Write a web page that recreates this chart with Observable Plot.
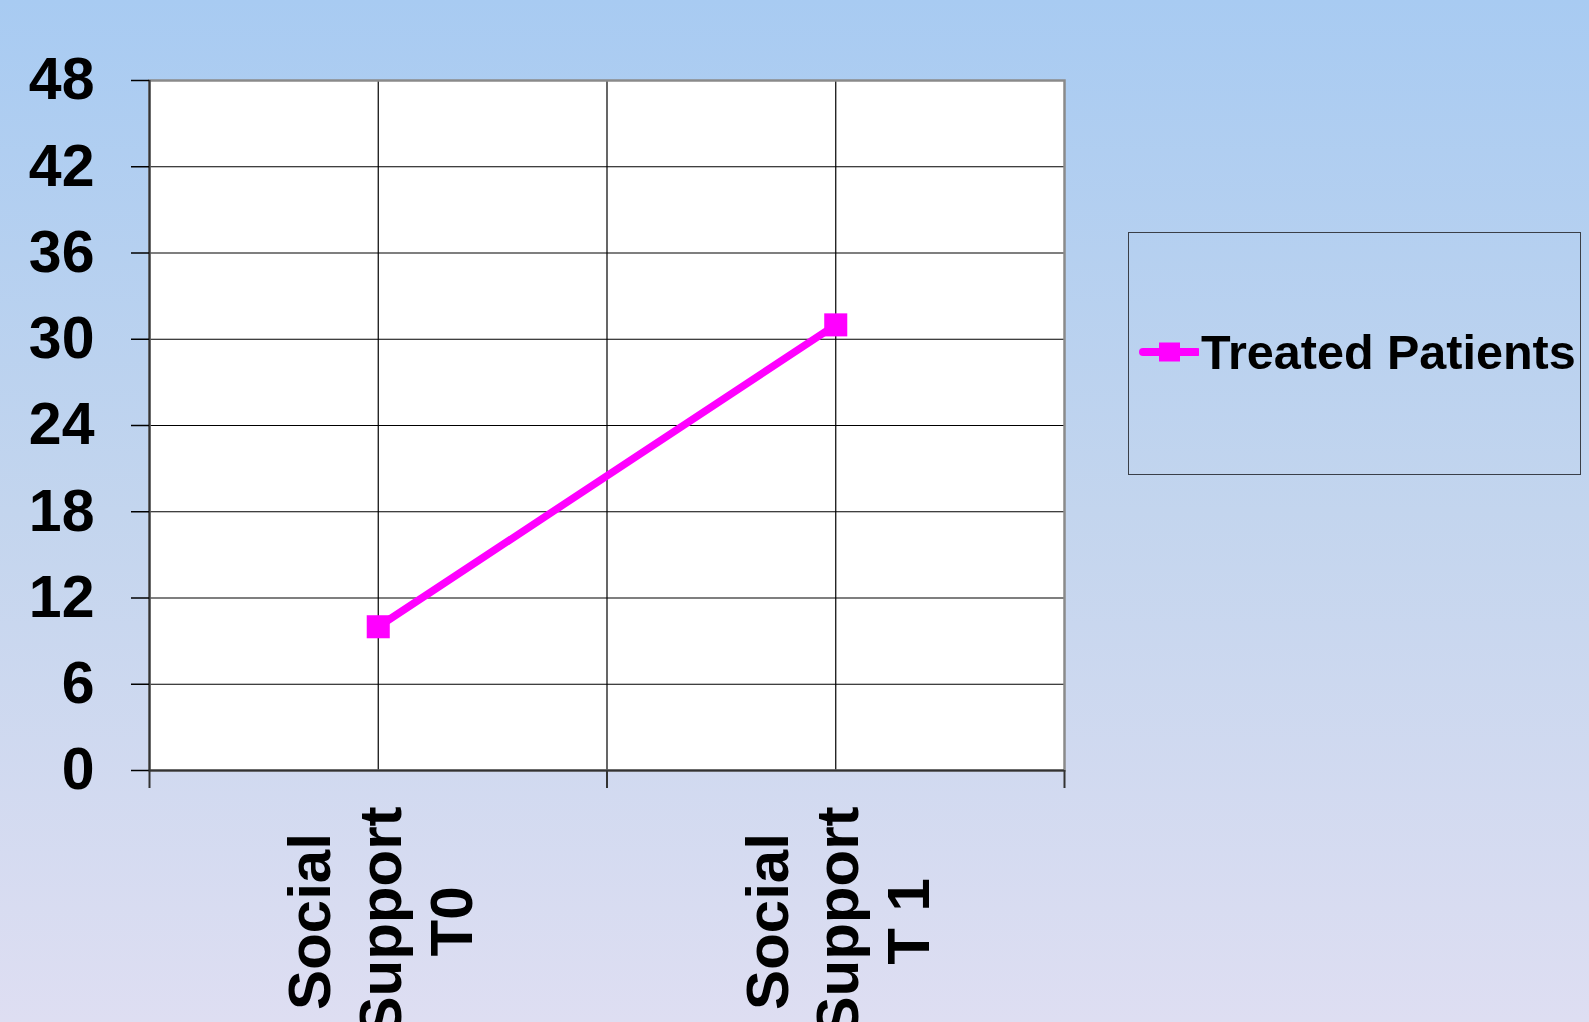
<!DOCTYPE html>
<html>
<head>
<meta charset="utf-8">
<script src="https://cdn.jsdelivr.net/npm/d3@7"></script>
<script src="https://cdn.jsdelivr.net/npm/@observablehq/plot@0.6"></script>
<style>
  html, body { margin: 0; padding: 0; }
  body { width: 1589px; height: 1022px; overflow: hidden;
    background: linear-gradient(to bottom, #a8cbf2 0%, #c3d5ee 50%, #dedef2 100%);
    font-family: "Liberation Sans", Arial, sans-serif; }
  #wrap { position: relative; width: 1589px; height: 1022px; }
  #legend { position: absolute; left: 1128px; top: 232px; width: 451px; height: 241px;
    border: 1.5px solid #3a3f48; }
  #legend .item { position: absolute; left: 10px; top: 91px; display: flex; align-items: center; }
  #legend .label { font-size: 48.5px; font-weight: bold; color: #000; margin-left: 2px; letter-spacing: 0; white-space: nowrap; }
</style>
</head>
<body>
<div id="wrap"></div>
<script>
// ---- data ----
const categories = ["Social\nSupport\nT0", "Social\nSupport\nT 1"];
const seriesName = "Treated Patients";
const treated = [10, 31];
const yTicks = [0, 6, 12, 18, 24, 30, 36, 42, 48];
const seriesColor = "#ff00ff";

// category i sits in the middle of its band on a 0..4 axis
const pos = categories.map((c, i) => 2 * i + 1);
const data = categories.map((c, i) => ({cat: c, x: pos[i], value: treated[i]}));
const bandEdges = [0, 2, 4];

const chart = Plot.plot({
  width: 1589,
  height: 1022,
  marginLeft: 149,
  marginRight: 525,
  marginTop: 80,
  marginBottom: 252,
  style: {background: "transparent", fontFamily: "'Liberation Sans', Arial, sans-serif", color: "#000", overflow: "visible"},
  x: {domain: [0, 4], axis: null},
  y: {domain: [0, 48], axis: null},
  marks: [
    Plot.frame({fill: "white"}),
    Plot.ruleY(yTicks.slice(1, -1), {stroke: "#000", strokeWidth: 1.2}),
    Plot.ruleX([...pos, 2].sort(), {stroke: "#000", strokeWidth: 1.2}),
    Plot.frame({stroke: "#8a8a8a", strokeWidth: 2.5}),
    Plot.ruleX([0], {stroke: "#333", strokeWidth: 2}),
    Plot.ruleY([0], {stroke: "#333", strokeWidth: 2}),
    Plot.axisY({ticks: yTicks, tickSize: 18, tickPadding: 37, fontSize: 59, fontWeight: "bold", label: null, stroke: "#000", strokeWidth: 1.5}),
    Plot.axisX({ticks: bandEdges, tickSize: 18, tickFormat: () => "", label: null, stroke: "#333", strokeWidth: 2}),
    Plot.text(data, {x: "x", text: "cat", frameAnchor: "bottom", dy: 151, rotate: -90,
      textAnchor: "middle", lineAnchor: "middle", lineHeight: 1.18, fontSize: 60, fontWeight: "bold", fill: "#000"}),
    Plot.line(data, {x: "x", y: "value", stroke: seriesColor, strokeWidth: 7.5}),
    Plot.dot(data, {x: "x", y: "value", symbol: "square", r: 13, fill: seriesColor, stroke: "none"})
  ]
});
document.getElementById("wrap").appendChild(chart);

// legend
const legend = document.createElement("div");
legend.id = "legend";
legend.innerHTML = `<div class="item">
  <svg width="60" height="24" viewBox="0 0 60 24">
    <line x1="4" y1="12" x2="58" y2="12" stroke="${seriesColor}" stroke-width="8" stroke-linecap="round"/>
    <rect x="20" y="2.5" width="21" height="19" fill="${seriesColor}"/>
  </svg>
  <span class="label"></span></div>`;
legend.querySelector(".label").textContent = seriesName;
document.getElementById("wrap").appendChild(legend);
</script>
</body>
</html>
